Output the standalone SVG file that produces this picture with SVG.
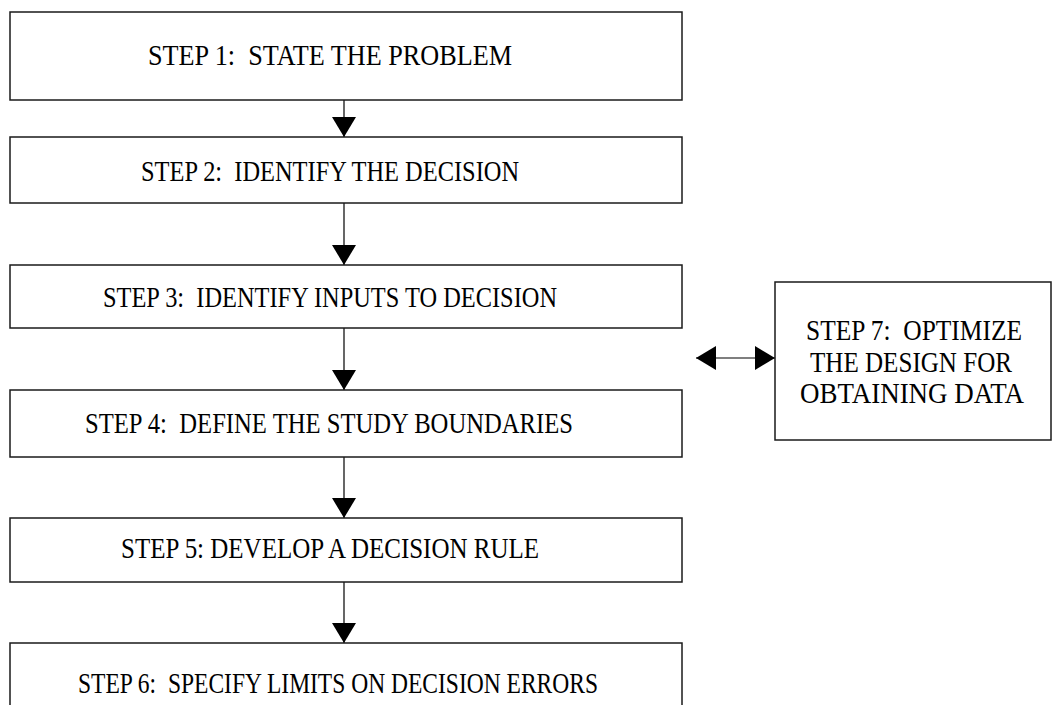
<svg xmlns="http://www.w3.org/2000/svg" width="1053" height="705" viewBox="0 0 1053 705">
<defs>
<style>
.box{fill:#fff;stroke:#1a1a1a;stroke-width:1.5}
.t{font-family:"Liberation Serif","Times New Roman",serif;font-size:29px;fill:#000;white-space:pre}
.c{stroke:#000;stroke-width:1.2;fill:none}
</style>
<marker id="ah" viewBox="0 0 20 24" refX="20" refY="12" markerWidth="20" markerHeight="24" markerUnits="userSpaceOnUse" orient="auto-start-reverse">
<path d="M0,0 L20,12 L0,24 Z" fill="#000"/>
</marker>
</defs>
<rect width="1053" height="705" fill="#fff"/>
<g id="connectors">
<line class="c" x1="344" y1="100" x2="344" y2="137" marker-end="url(#ah)"/>
<line class="c" x1="344" y1="203" x2="344" y2="265" marker-end="url(#ah)"/>
<line class="c" x1="344" y1="328" x2="344" y2="390" marker-end="url(#ah)"/>
<line class="c" x1="344" y1="457" x2="344" y2="518" marker-end="url(#ah)"/>
<line class="c" x1="344" y1="582" x2="344" y2="643" marker-end="url(#ah)"/>
<line class="c" x1="696" y1="358" x2="775" y2="358" marker-start="url(#ah)" marker-end="url(#ah)"/>
</g>
<g id="step1"><rect class="box" x="10" y="12" width="672" height="88"/><text class="t" x="148" y="65" textLength="364" lengthAdjust="spacingAndGlyphs" xml:space="preserve">STEP 1:  STATE THE PROBLEM</text></g>
<g id="step2"><rect class="box" x="10" y="137" width="672" height="66"/><text class="t" x="141" y="181" textLength="378" lengthAdjust="spacingAndGlyphs" xml:space="preserve">STEP 2:  IDENTIFY THE DECISION</text></g>
<g id="step3"><rect class="box" x="10" y="265" width="672" height="63"/><text class="t" x="103" y="307" textLength="454" lengthAdjust="spacingAndGlyphs" xml:space="preserve">STEP 3:  IDENTIFY INPUTS TO DECISION</text></g>
<g id="step4"><rect class="box" x="10" y="390" width="672" height="67"/><text class="t" x="85" y="433" textLength="488" lengthAdjust="spacingAndGlyphs" xml:space="preserve">STEP 4:  DEFINE THE STUDY BOUNDARIES</text></g>
<g id="step5"><rect class="box" x="10" y="518" width="672" height="64"/><text class="t" x="121" y="558" textLength="418" lengthAdjust="spacingAndGlyphs" xml:space="preserve">STEP 5: DEVELOP A DECISION RULE</text></g>
<g id="step6"><rect class="box" x="10" y="643" width="672" height="80"/><text class="t" x="78" y="693" textLength="520" lengthAdjust="spacingAndGlyphs" xml:space="preserve">STEP 6:  SPECIFY LIMITS ON DECISION ERRORS</text></g>
<g id="step7"><rect class="box" x="775" y="282" width="276" height="158"/>
<text class="t" x="806" y="340" textLength="216" lengthAdjust="spacingAndGlyphs" xml:space="preserve">STEP 7:  OPTIMIZE</text>
<text class="t" x="810" y="372" textLength="202" lengthAdjust="spacingAndGlyphs" xml:space="preserve">THE DESIGN FOR</text>
<text class="t" x="800" y="403" textLength="224" lengthAdjust="spacingAndGlyphs" xml:space="preserve">OBTAINING DATA</text></g>
</svg>
